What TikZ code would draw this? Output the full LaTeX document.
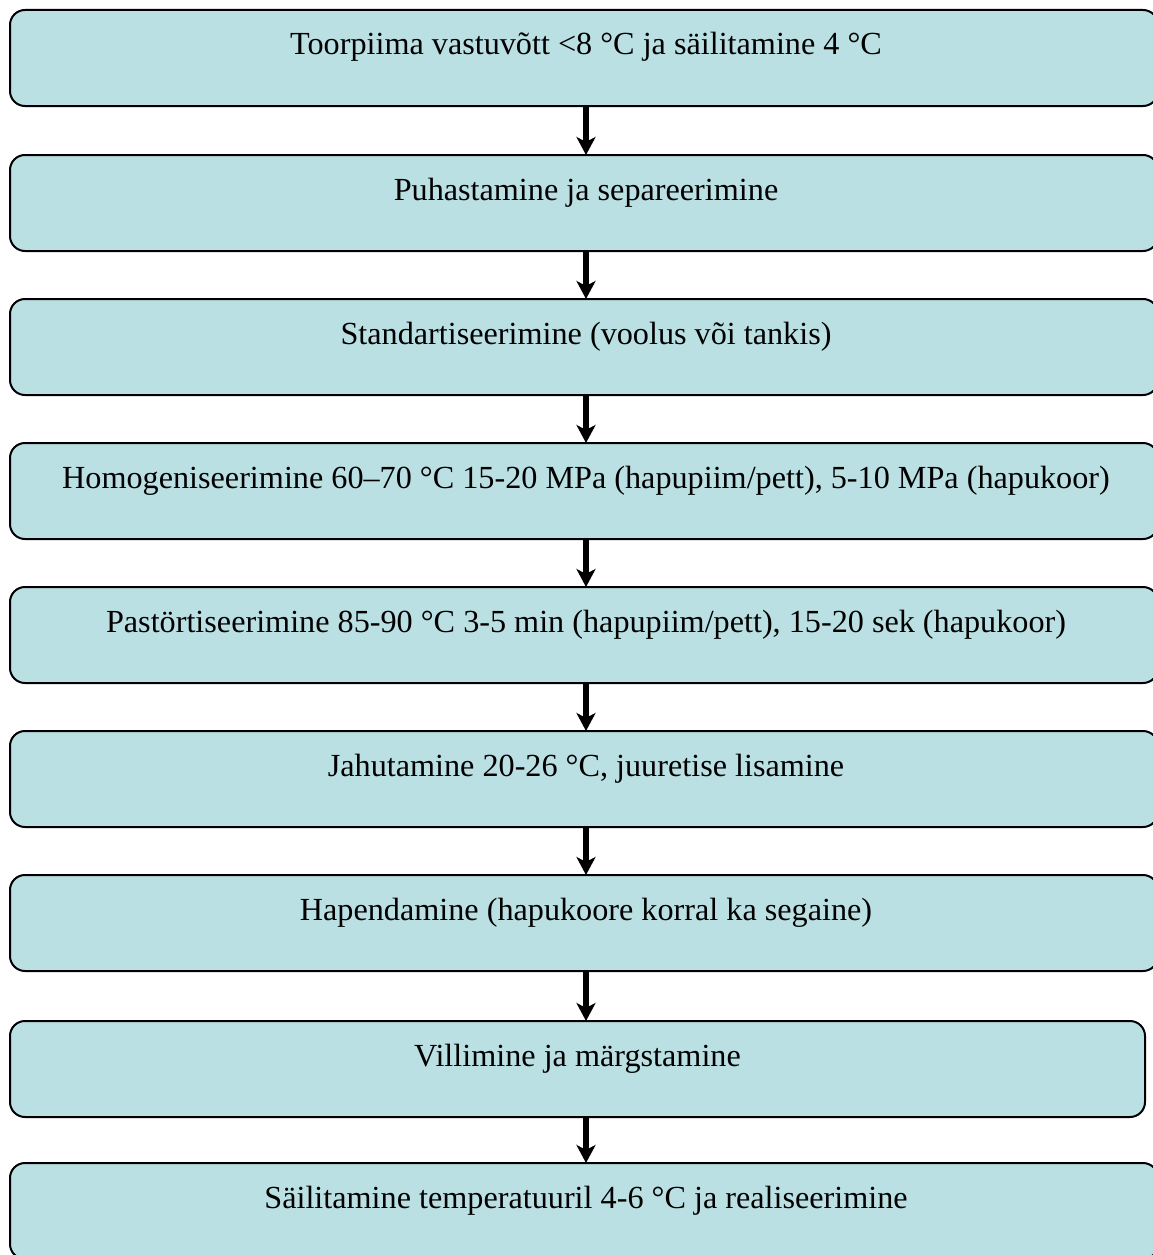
\documentclass[tikz,border=0pt]{standalone}
\usepackage{fontspec}
\setmainfont{Liberation Serif}
\usetikzlibrary{arrows.meta,calc}

\definecolor{boxfill}{RGB}{187,224,227}

\tikzset{
  stepbox/.style={draw=black, line width=2pt, fill=boxfill, rounded corners=15pt,
    minimum height=96pt, inner sep=0pt, outer sep=0pt},
  steptext/.style={anchor=base, inner sep=0pt, font=\fontsize{32.2}{36}\selectfont},
  flowarrow/.style={line width=5.5pt, -{Stealth[length=18pt,width=19pt,inset=5pt]}}
}

\begin{document}
\begin{tikzpicture}[x=1pt,y=1pt]
  \useasboundingbox (0,0) rectangle (1153,-1255);
  \clip (0,0) rectangle (1153,-1255);

  % process steps, top to bottom
  \node[stepbox, minimum width=1148pt] (b1) at (584,-58)   {};
  \node[stepbox, minimum width=1148pt] (b2) at (584,-203)  {};
  \node[stepbox, minimum width=1148pt] (b3) at (584,-347)  {};
  \node[stepbox, minimum width=1148pt] (b4) at (584,-491)  {};
  \node[stepbox, minimum width=1148pt] (b5) at (584,-635)  {};
  \node[stepbox, minimum width=1148pt] (b6) at (584,-779)  {};
  \node[stepbox, minimum width=1148pt] (b7) at (584,-923)  {};
  \node[stepbox, minimum width=1135pt] (b8) at (577.5,-1069) {};
  \node[stepbox, minimum width=1148pt] (b9) at (584,-1211) {};

  % step labels
  \coordinate (tx) at (586,0);
  \node[steptext] (t1) at ($(b1.north -| tx)+(0,-45)$) {Toorpiima vastuvõtt <8 °C ja säilitamine 4 °C};
  \node[steptext] (t2) at ($(b2.north -| tx)+(0,-45)$) {Puhastamine ja separeerimine};
  \node[steptext] (t3) at ($(b3.north -| tx)+(0,-45)$) {Standartiseerimine (voolus või tankis)};
  \node[steptext] (t4) at ($(b4.north -| tx)+(0,-45)$) {Homogeniseerimine 60–70 °C 15-20 MPa (hapupiim/pett), 5-10 MPa (hapukoor)};
  \node[steptext] (t5) at ($(b5.north -| tx)+(0,-45)$) {Pastörtiseerimine 85-90 °C 3-5 min (hapupiim/pett), 15-20 sek (hapukoor)};
  \node[steptext] (t6) at ($(b6.north -| tx)+(0,-45)$) {Jahutamine 20-26 °C, juuretise lisamine};
  \node[steptext] (t7) at ($(b7.north -| tx)+(0,-45)$) {Hapendamine (hapukoore korral ka segaine)};
  \node[steptext] (t8) at ($(b8.north)+(0,-45)$) {Villimine ja märgstamine};
  \node[steptext] (t9) at ($(b9.north -| tx)+(0,-45)$) {Säilitamine temperatuuril 4-6 °C ja realiseerimine};

  % connectors
  \coordinate (ax) at (586,0);
  \draw[flowarrow] (b1.south -| ax) -- (b2.north -| ax);
  \draw[flowarrow] (b2.south -| ax) -- (b3.north -| ax);
  \draw[flowarrow] (b3.south -| ax) -- (b4.north -| ax);
  \draw[flowarrow] (b4.south -| ax) -- (b5.north -| ax);
  \draw[flowarrow] (b5.south -| ax) -- (b6.north -| ax);
  \draw[flowarrow] (b6.south -| ax) -- (b7.north -| ax);
  \draw[flowarrow] (b7.south -| ax) -- (b8.north -| ax);
  \draw[flowarrow] (b8.south -| ax) -- (b9.north -| ax);
\end{tikzpicture}
\end{document}
